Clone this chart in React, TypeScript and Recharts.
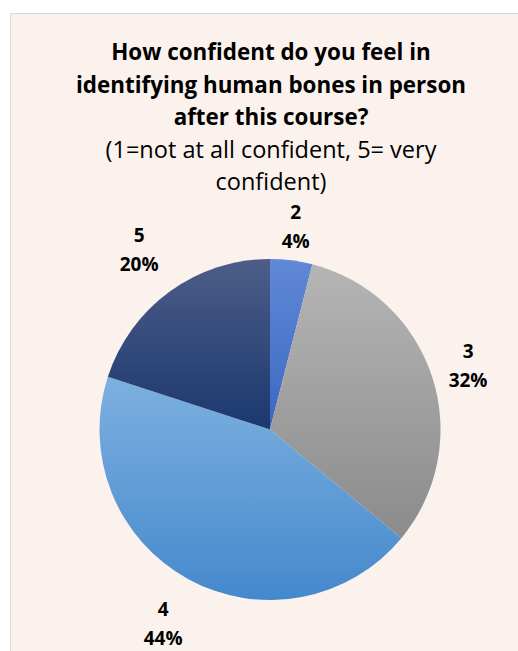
import React from "react";
import { PieChart, Pie, Cell } from "recharts";

const categories = ["2", "3", "4", "5"];
const values = [4, 32, 44, 20];
const gradTop = ["#6089D6", "#B5B5B5", "#7EB0E0", "#4D5D88"];
const gradBottom = ["#3A68C2", "#8B8B8B", "#4489CC", "#1B386F"];

const titleLines = [
  "How confident do you feel in",
  "identifying human bones in person",
  "after this course?",
];
const subtitleLines = ["(1=not at all confident, 5= very", "confident)"];

const data = categories.map((c, i) => ({ name: c, value: values[i] }));

const FONT = "'Open Sans', Lato, sans-serif";
const RAD = Math.PI / 180;

const renderLabel = (props: any) => {
  const { cx, cy, midAngle, outerRadius, percent, name } = props;
  const pct = `${Math.round(percent * 100)}%`;
  const cos = Math.cos(-midAngle * RAD);
  const sin = Math.sin(-midAngle * RAD);
  const hw = pct.length * 7;
  const hh = 22;
  const gap = cos > 0 ? 11 : 22;
  const r = outerRadius + gap + hw * Math.abs(cos) + hh * Math.abs(sin);
  const x = cx + r * cos;
  const y = cy + r * sin;
  return (
    <text
      x={x}
      y={y}
      textAnchor="middle"
      fontFamily={FONT}
      fontWeight="bold"
      fontSize={19}
      fill="#000"
    >
      <tspan x={x} y={y - 7.5}>{name}</tspan>
      <tspan x={x} y={y + 21.5}>{pct}</tspan>
    </text>
  );
};

export default function App() {
  return (
    <div
      style={{
        position: "fixed",
        left: 0,
        top: 0,
        width: 518,
        height: 651,
        overflow: "hidden",
        background: "#ffffff",
      }}
    >
      <div
        style={{
          position: "absolute",
          left: 10,
          top: 13,
          width: 530,
          height: 660,
          background: "#FBF2ED",
          border: "1px solid #D9D9D9",
          boxSizing: "border-box",
        }}
      >
        <PieChart width={530} height={660} margin={{ top: 0, right: 0, bottom: 0, left: 0 }}>
          <defs>
            {categories.map((c, i) => (
              <linearGradient key={c} id={`g${i}`} x1="0" y1="0" x2="0" y2="1">
                <stop offset="0%" stopColor={gradTop[i]} />
                <stop offset="100%" stopColor={gradBottom[i]} />
              </linearGradient>
            ))}
          </defs>
          <Pie
            data={data}
            dataKey="value"
            nameKey="name"
            cx={259}
            cy={415.5}
            outerRadius={170.5}
            startAngle={90}
            endAngle={-270}
            stroke="none"
            label={renderLabel}
            labelLine={false}
            isAnimationActive={false}
          >
            {data.map((d, i) => (
              <Cell key={d.name} fill={`url(#g${i})`} />
            ))}
          </Pie>
        </PieChart>
        <svg
          width={530}
          height={660}
          style={{ position: "absolute", left: 0, top: 0, pointerEvents: "none" }}
        >
          {titleLines.map((t, i) => (
            <text
              key={t}
              x={260}
              y={46 + i * 32.5}
              textAnchor="middle"
              fontFamily={FONT}
              fontWeight="bold"
              fontSize={22.4}
              fill="#000"
            >
              {t}
            </text>
          ))}
          {subtitleLines.map((t, i) => (
            <text
              key={t}
              x={260}
              y={144 + i * 31.5}
              textAnchor="middle"
              fontFamily={FONT}
              fontSize={23.5}
              fill="#000"
            >
              {t}
            </text>
          ))}
        </svg>
      </div>
    </div>
  );
}
